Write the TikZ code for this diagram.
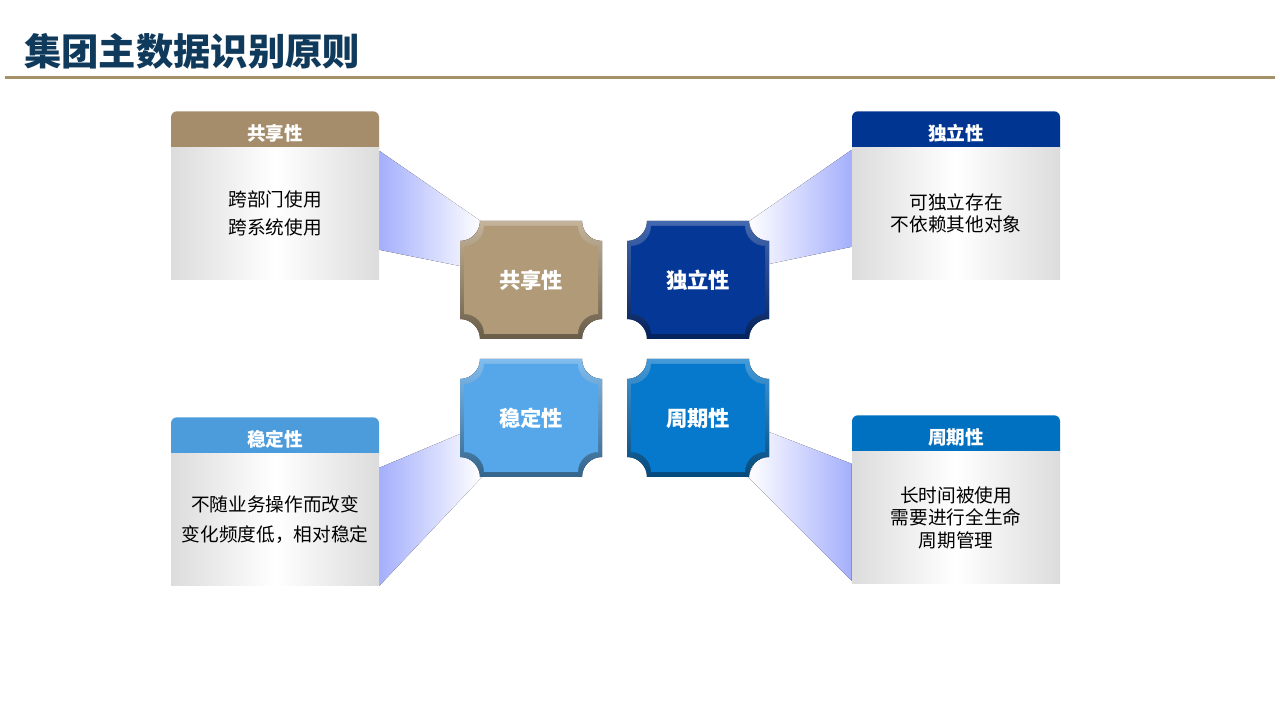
\documentclass[tikz,border=0pt]{standalone}
\usepackage{fontspec}
\setmainfont{Noto Sans CJK SC}
\usepackage{xcolor}
\usepackage{tikz}
\usetikzlibrary{positioning,calc,backgrounds}

\definecolor{titleblue}{HTML}{103A5B}
\definecolor{ruletan}{HTML}{A49168}
\definecolor{hdrtan}{HTML}{A58D6B}
\definecolor{hdrnavy}{HTML}{003591}
\definecolor{hdrsky}{HTML}{4C9CDC}
\definecolor{hdrblue}{HTML}{0070C0}
\definecolor{tiletan}{HTML}{B09A78}
\definecolor{tilenavy}{HTML}{053797}
\definecolor{tilesky}{HTML}{56A7E9}
\definecolor{tileblue}{HTML}{0679CD}
\definecolor{beamblue}{HTML}{A4AFFC}
\definecolor{cardgray}{HTML}{DCDCDC}

% rectangle with concave corners, lower left (#1,#2), upper right (#3,#4)
\newcommand{\notchpath}[4]{({#1+20},{#4}) -- ({#3-20},{#4}) arc[start angle=180, end angle=270, radius=15pt]
  -- ({#3},{#2+20}) arc[start angle=90, end angle=180, radius=15pt]
  -- ({#1+20},{#2}) arc[start angle=0, end angle=90, radius=15pt]
  -- ({#1},{#4-20}) arc[start angle=270, end angle=360, radius=15pt] -- cycle}

\begin{document}
\begin{tikzpicture}[x=0.75pt, y=0.75pt,
    header/.style={rectangle, rounded corners=4.5pt, anchor=north, minimum width=156pt, minimum height=33pt, inner sep=0pt, text=white, font=\bfseries\fontsize{14}{16}\selectfont},
    body/.style={rectangle, minimum width=156pt, minimum height=99pt, inner sep=0pt, align=center, left color=cardgray, right color=cardgray, middle color=white},
    tiletext/.style={text=white, font=\bfseries\fontsize{16}{18}\selectfont},
    beamin/.style={left color=beamblue, right color=white},
    beamout/.style={left color=white, right color=beamblue}
]
\useasboundingbox (0,0) rectangle (1280,720);

\node (title) [anchor=west, inner sep=0pt, text=titleblue, font=\bfseries\fontsize{28}{32}\selectfont] at (24,669) {集团主数据识别原则};
\draw [ruletan, line width=2.25pt] (5,642) -- (1275,642);

% cards
\node (sharehead) [header, fill=hdrtan] at (275,609) {共享性};
\node (sharebody) [body, below=-6pt of sharehead, font=\fontsize{14}{21}\selectfont] {跨部门使用\\跨系统使用};

\node (indephead) [header, fill=hdrnavy] at (956,609) {独立性};
\node (indepbody) [body, below=-6pt of indephead, font=\fontsize{14}{16.5}\selectfont] {可独立存在\\不依赖其他对象};

\node (stablehead) [header, fill=hdrsky] at (275,303) {稳定性};
\node (stablebody) [body, below=-6pt of stablehead, font=\fontsize{14}{22.5}\selectfont] {不随业务操作而改变\\变化频度低，相对稳定};

\node (periodhead) [header, fill=hdrblue] at (956,305) {周期性};
\node (periodbody) [body, below=-6pt of periodhead, font=\fontsize{14}{17}\selectfont] {长时间被使用\\需要进行全生命\\周期管理};

% tiles
\foreach \nm/\a/\b/\col/\txt in {sharetile/460/381/tiletan/共享性, indeptile/627/381/tilenavy/独立性,
    stabletile/460/243/tilesky/稳定性, periodtile/627/243/tileblue/周期性} {
  \fill [top color=\col!75!white, bottom color=\col!60!black] \notchpath{\a}{\b}{\a+142}{\b+118};
  \fill [\col] \notchpath{\a+4}{\b+5}{\a+138}{\b+113};
  \node (\nm) [tiletext] at ({\a+71},{\b+59}) {\txt};
}

% beams
\begin{scope}[on background layer]
\fill [beamin] ($(sharebody.east)+(0,63)$) -- ($(sharetile)+(-49,58)$) -- ($(sharetile)+(-71,14)$) -- ($(sharebody.east)+(0,-36)$) -- cycle;
\fill [beamout] ($(indepbody.west)+(0,64)$) -- ($(indeptile)+(50,58)$) -- ($(indeptile)+(71,16)$) -- ($(indepbody.west)+(0,-33)$) -- cycle;
\fill [beamin] ($(stablebody.east)+(0,52)$) -- ($(stabletile)+(-71,-16)$) -- ($(stabletile)+(-49,-59)$) -- ($(stablebody.east)+(0,-66)$) -- cycle;
\fill [beamout] ($(periodbody.west)+(0,54)$) -- ($(periodtile)+(71,-14)$) -- ($(periodtile)+(50,-59)$) -- ($(periodbody.west)+(0,-63)$) -- cycle;
\end{scope}

\end{tikzpicture}
\end{document}
